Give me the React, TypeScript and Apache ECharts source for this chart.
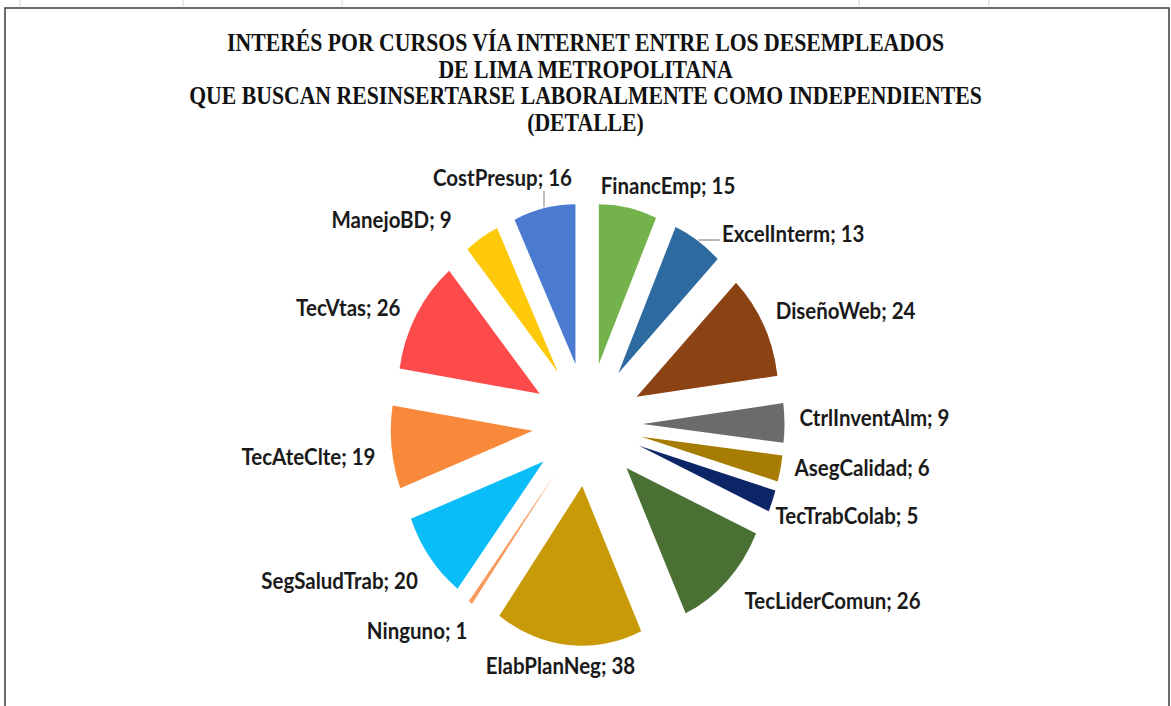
import React, { useEffect, useRef } from 'react';
import * as echarts from 'echarts';

// ---- data ----
const categories = [
  'FinancEmp', 'ExcelInterm', 'DiseñoWeb', 'CtrlInventAlm', 'AsegCalidad', 'TecTrabColab',
  'TecLiderComun', 'ElabPlanNeg', 'Ninguno', 'SegSaludTrab', 'TecAteClte', 'TecVtas', 'ManejoBD', 'CostPresup',
];
const values = [15, 13, 24, 9, 6, 5, 26, 38, 1, 20, 19, 26, 9, 16];
const colors = [
  '#74b34c', '#2d6a9f', '#8b4314', '#6b6b6b', '#a67c02', '#0b2567',
  '#4b7034', '#c99a08', '#f79a5b', '#0abcf8', '#f8893a', '#fd4a4b', '#fec90a', '#4a7bd1',
];
const leaderLineCategories = ['ExcelInterm', 'CostPresup'];
const titleLines = [
  'INTERÉS POR CURSOS VÍA INTERNET ENTRE LOS DESEMPLEADOS',
  'DE LIMA METROPOLITANA',
  'QUE BUSCAN RESINSERTARSE LABORALMENTE COMO INDEPENDIENTES',
  '(DETALLE)',
];
const sheetColumnLines = [20, 183, 342, 859, 989];

// ---- layout ----
const W = 1171;
const H = 706;
const SCALE_Y = 1.125;
const CH = H / SCALE_Y;
const CX = 587.5;
const CY = 377.3;
const R = 142;
const OFFSET = 55;
const LABEL_FONT_SIZE = 20.5;
const LABEL_FONT_FAMILY = 'Lato';
// small per-label placement tweaks (px) mimicking the spreadsheet's best-fit labels
const labelNudges: [number, number][] = [
  [-1, 5], [12, 15], [0, -1], [3, -3], [2, -4], [-9, 6], [5, 2],
  [13, -4], [9, 7], [0, 8], [-4, 7], [-4, 7], [-18, 6], [3, -2],
];

function measure(text: string): number {
  const cv = document.createElement('canvas');
  const ctx = cv.getContext('2d');
  if (!ctx) return text.length * 10;
  ctx.font = `bold ${LABEL_FONT_SIZE}px ${LABEL_FONT_FAMILY}`;
  return ctx.measureText(text).width;
}

export default function App() {
  const ref = useRef<HTMLDivElement>(null);

  useEffect(() => {
    if (!ref.current) return;
    const chart = echarts.init(ref.current, null, { renderer: 'svg' });
    const total = values.reduce((a, b) => a + b, 0);
    const cumBefore: number[] = [];
    values.reduce((acc, v, i) => {
      cumBefore[i] = acc;
      return acc + v;
    }, 0);

    const data = categories.map((name, i) => ({
      name,
      value: values[i],
      selected: true,
      itemStyle: { color: colors[i] },
    }));

    const D = R + OFFSET;
    const LABEL_H = 22;
    const labelGraphics: any[] = [];
    categories.forEach((name, i) => {
      const mid = ((cumBefore[i] + values[i] / 2) / total) * Math.PI * 2;
      const s = Math.sin(mid);
      const c = Math.cos(mid);
      const ex = CX + D * s;
      const ey = CY - D * c;
      const text = `${name}; ${values[i]}`;
      const w = measure(text);
      const dx = Math.sign(s) * (w / 2 + 12) * Math.min(1, 2.5 * Math.abs(s));
      const dy = -24 * c - 2;
      const lx = ex + dx + labelNudges[i][0];
      const ly = ey + dy + labelNudges[i][1];
      labelGraphics.push({
        type: 'text',
        x: lx,
        y: ly,
        silent: true,
        z: 10,
        style: {
          text,
          fill: '#1a1a1a',
          fontFamily: LABEL_FONT_FAMILY,
          fontWeight: 'bold',
          fontSize: LABEL_FONT_SIZE,
          align: 'center',
          verticalAlign: 'middle',
          textAlign: 'center',
          textVerticalAlign: 'middle',
        },
      });
      if (leaderLineCategories.includes(name)) {
        const sx = ex + s * 1;
        const sy = ey - c * 1;
        const left = lx - w / 2 - 2;
        const right = lx + w / 2 + 2;
        const top = ly - LABEL_H / 2 - 1;
        const bottom = ly + LABEL_H / 2 + 1;
        const tx = Math.min(Math.max(sx, left), right);
        const ty = Math.min(Math.max(sy, top), bottom);
        labelGraphics.push({
          type: 'line',
          silent: true,
          z: 9,
          shape: { x1: sx, y1: sy, x2: tx, y2: ty },
          style: { stroke: '#7f7f7f', lineWidth: 1 },
        });
      }
    });

    const graphics: any[] = [
      {
        type: 'rect',
        silent: true,
        z: -10,
        shape: { x: 5, y: 7.1, width: 1164, height: CH + 40 },
        style: { fill: '#ffffff', stroke: '#3b3b3b', lineWidth: 1.5 },
      },
      ...sheetColumnLines.map((x) => ({
        type: 'line',
        silent: true,
        shape: { x1: x, y1: 0, x2: x, y2: 6.4 },
        style: { stroke: '#d6d6d6', lineWidth: 1 },
      })),
      ...labelGraphics,
    ];

    chart.setOption({
      animation: false,
      backgroundColor: '#ffffff',
      title: {
        text: titleLines.join('\n'),
        left: 'center',
        top: 26,
        padding: 0,
        textStyle: {
          fontFamily: '"Liberation Serif", "Times New Roman", serif',
          fontWeight: 'bold',
          fontSize: 21.75,
          lineHeight: 23.7,
          color: '#111111',
        },
      },
      graphic: graphics,
      series: [
        {
          type: 'pie',
          center: [CX, CY],
          radius: R,
          startAngle: 90,
          clockwise: true,
          selectedMode: 'multiple',
          selectedOffset: OFFSET,
          avoidLabelOverlap: false,
          emphasis: { disabled: true },
          select: { itemStyle: { borderWidth: 0 } },
          itemStyle: { borderWidth: 0 },
          label: { show: false },
          labelLine: { show: false },
          data,
        },
      ],
    });

    return () => chart.dispose();
  }, []);

  return (
    <div
      style={{
        position: 'absolute',
        left: 0,
        top: 0,
        width: W,
        height: H,
        overflow: 'hidden',
        background: '#ffffff',
      }}
    >
      <div
        ref={ref}
        style={{
          width: W,
          height: CH,
          transform: `scaleY(${SCALE_Y})`,
          transformOrigin: '0 0',
        }}
      />
    </div>
  );
}
